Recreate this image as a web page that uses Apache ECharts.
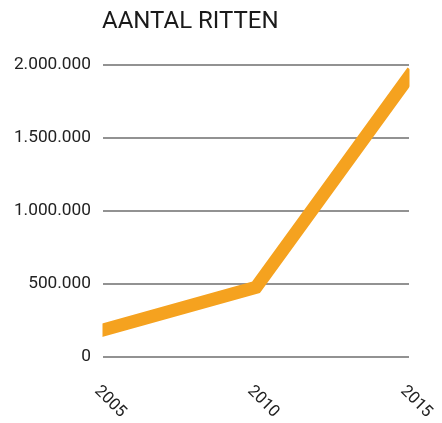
<!DOCTYPE html>
<html>
<head>
<meta charset="utf-8">
<script src="https://cdn.jsdelivr.net/npm/echarts@6/dist/echarts.min.js"></script>
<style>
html,body{margin:0;padding:0;background:#fff;}
#chart{width:442px;height:423px;}
</style>
</head>
<body>
<div id="chart"></div>
<script>
var titleText = 'AANTAL RITTEN';
var years = ['2005', '2010', '2015'];
var rides = [182000, 475000, 1920000];

function fmt(v) {
  return String(v).replace(/\B(?=(\d{3})+(?!\d))/g, '.');
}

var chart = echarts.init(document.getElementById('chart'), null, {renderer: 'canvas'});
chart.setOption({
  animation: false,
  backgroundColor: '#ffffff',
  title: {
    text: titleText,
    left: 97,
    top: 5,
    textStyle: {fontFamily: 'Roboto', fontWeight: 'normal', fontSize: 24, color: '#1a1a1a'}
  },
  grid: {left: 103, right: 33, top: 65, bottom: 65, containLabel: false},
  xAxis: {
    type: 'category',
    data: years,
    boundaryGap: false,
    axisLine: {show: false},
    axisTick: {show: false},
    splitLine: {show: false},
    axisLabel: {
      rotate: -45,
      margin: 26,
      verticalAlign: 'top',
      fontFamily: 'Roboto',
      fontSize: 16.5,
      color: '#222'
    }
  },
  yAxis: {
    type: 'value',
    min: 0,
    max: 2000000,
    interval: 500000,
    axisLine: {show: false},
    axisTick: {show: false},
    splitLine: {show: true, lineStyle: {color: '#6e6e6e', width: 1.5}},
    axisLabel: {
      margin: 12,
      fontFamily: 'Roboto',
      fontSize: 17.3,
      color: '#222',
      formatter: function (v) { return fmt(v); }
    }
  },
  graphic: [
    {type: 'rect', z: 100, shape: {x: 409.5, y: 50, width: 33, height: 60}, style: {fill: '#ffffff'}},
    {type: 'rect', z: 100, shape: {x: 90, y: 315, width: 12.5, height: 30}, style: {fill: '#ffffff'}}
  ],
  series: [{
    type: 'line',
    data: rides,
    symbol: 'none',
    clip: true,
    lineStyle: {color: '#f5a21f', width: 13, cap: 'square', join: 'miter'}
  }]
});
</script>
</body>
</html>
